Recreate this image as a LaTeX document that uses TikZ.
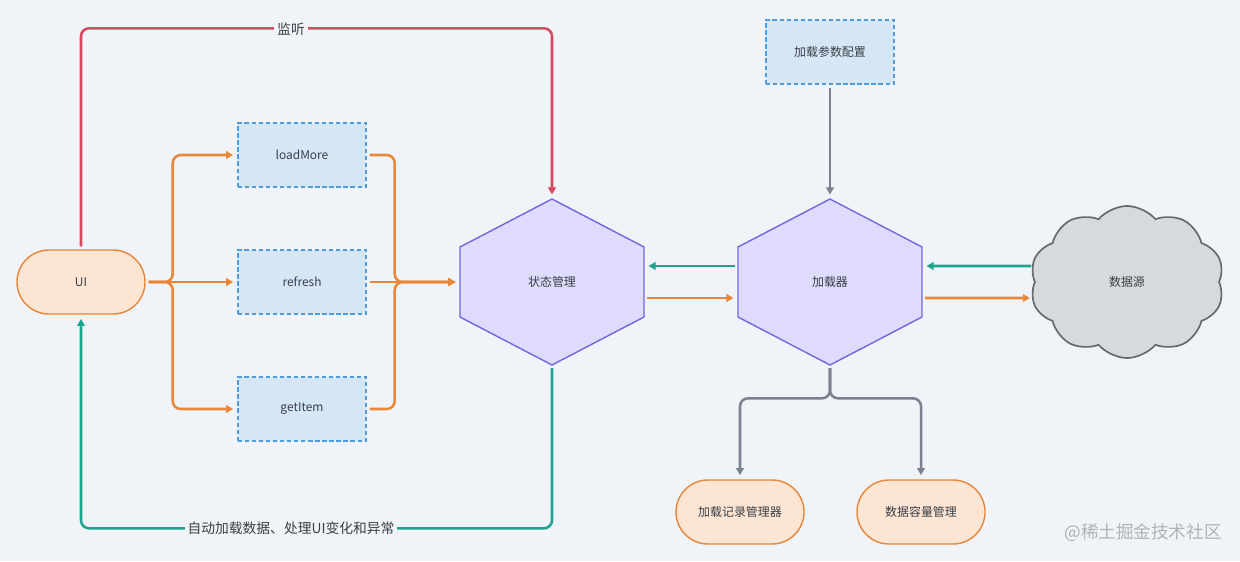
\documentclass[tikz,border=0pt]{standalone}
\usepackage{fontspec}
\setmainfont{Noto Sans CJK SC}
\usetikzlibrary{arrows.meta,shapes.symbols,calc}

\definecolor{bg}{HTML}{F0F3F7}
\definecolor{ink}{HTML}{3A3F47}
\definecolor{orangeline}{HTML}{E8873A}
\definecolor{peach}{HTML}{FCE5D3}
\definecolor{blueline}{HTML}{4D9DE0}
\definecolor{bluefill}{HTML}{D5E6F5}
\definecolor{purpleline}{HTML}{7565E0}
\definecolor{purplefill}{HTML}{DEDBFC}
\definecolor{redline}{HTML}{D9485F}
\definecolor{tealline}{HTML}{1FA58F}
\definecolor{grayline}{HTML}{7A828F}
\definecolor{cloudline}{HTML}{66696D}
\definecolor{cloudfill}{HTML}{D7DADD}
\definecolor{markgray}{HTML}{AEB3B9}

\tikzset{
  txt/.style={text=ink, font=\fontsize{8.5}{10}\selectfont},
  pill/.style={txt, draw=orangeline, fill=peach, line width=1pt,
    rounded corners=0.8cm, minimum width=3.2cm, minimum height=1.6cm},
  api/.style={txt, draw=blueline, fill=bluefill, line width=1pt,
    dash pattern=on 3pt off 2pt, minimum width=3.2cm, minimum height=1.6cm},
  hexnode/.style={txt, minimum width=4.6cm, minimum height=4.15cm, inner sep=0pt},
  hexline/.style={draw=purpleline, fill=purplefill, line width=1pt, line join=round},
  cloudnode/.style={txt, cloud, cloud puffs=10, cloud puff arc=100, aspect=1.3,
    draw=cloudline, fill=cloudfill, line width=1.2pt,
    minimum width=4.85cm, minimum height=3.8cm},
  lbl/.style={text=ink, font=\fontsize{9.8}{11}\selectfont, fill=bg, inner sep=2pt},
  watermark/.style={text=markgray, font=\fontsize{12.5}{14}\selectfont},
  flow/.style={draw=orangeline, line width=1.8pt, rounded corners=0.2cm,
    shorten <=2pt, shorten >=3pt},
  back/.style={flow, draw=tealline},
  listen/.style={flow, draw=redline},
  conf/.style={flow, draw=grayline},
}

\begin{document}
\begin{tikzpicture}[x=0.025cm, y=-0.025cm, >={Triangle[length=5pt,width=5.5pt]}]
\fill[bg] (0,0) rectangle (1240,561);
\useasboundingbox (0,0) rectangle (1240,561);

% hexagons
\foreach \cx in {552,830}
  \filldraw[hexline] (\cx,199) -- ({\cx+92},247) -- ({\cx+92},317) -- (\cx,365)
    -- ({\cx-92},317) -- ({\cx-92},247) -- cycle;

\node[pill] (ui) at (81,282) {UI};
\node[api] (lm) at (302,155) {loadMore};
\node[api] (rf) at (302,282) {refresh};
\node[api] (gi) at (302,409) {getItem};
\node[hexnode] (sm) at (552,282) {状态管理};
\node[hexnode] (jzq) at (830,282) {加载器};
\node[api] (cfg) at (830,52) {加载参数配置};
\node[cloudnode] (ds) at (1127,282) {数据源};
\node[pill] (rec) at (740,512) {加载记录管理器};
\node[pill] (cap) at (921,512) {数据容量管理};

% UI -> api
\path[flow,->] (ui.east) -- ++(27,0) |- (lm.west);
\path[flow,->] (ui.east) -- ++(27,0) |- (gi.west);
\path[flow,->] (ui.east) -- (rf.west);
% api -> state
\path[flow,->] (lm.east) -- ++(28,0) |- (sm.west);
\path[flow,->] (gi.east) -- ++(28,0) |- (sm.west);
\path[flow,->] (rf.east) -- (sm.west);

% listen / callback
\path[listen,->] (ui.north) -- ++(0,-221) -| (sm.north);
\path[back,->] (sm.south) -- ++(0,163) -| (ui.south);
\node[lbl] (tlisten) at (291,29) {监听};
\node[lbl] (tback) at (291,528) {自动加载数据、处理UI变化和异常};

% state <-> loader <-> source
\path[back,->] ([yshift=0.4cm]jzq.west) -- ([yshift=0.4cm]sm.east);
\path[flow,->] ([yshift=-0.4cm]sm.east) -- ([yshift=-0.4cm]jzq.west);
\path[back,->] ([yshift=0.4cm]ds.west) -- ([yshift=0.4cm]jzq.east);
\path[flow,->] ([yshift=-0.4cm]jzq.east) -- ([yshift=-0.4cm]ds.west);

% config and managers
\path[conf,->] (cfg.south) -- (jzq.north);
\path[conf,->] (jzq.south) -- ++(0,33) -| (rec.north);
\path[conf,->] (jzq.south) -- ++(0,33) -| (cap.north);

\node[watermark] (wm) at (1143,533) {@稀土掘金技术社区};
\end{tikzpicture}
\end{document}
